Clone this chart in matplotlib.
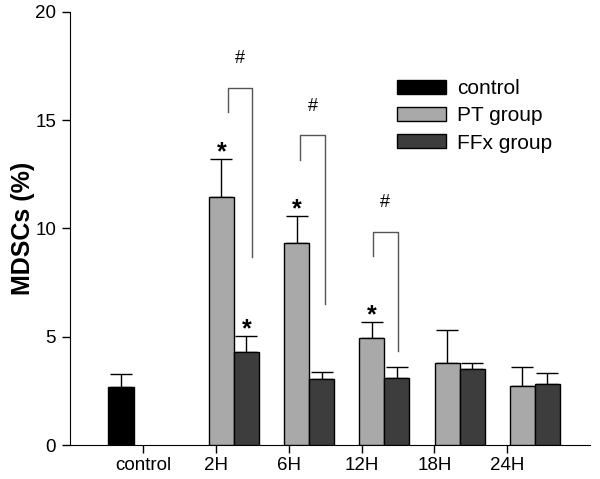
import numpy as np
import matplotlib.pyplot as plt

plt.rcParams['font.family'] = ['Liberation Sans', 'DejaVu Sans']

# Groups and values (MDSCs %)
groups = ['control', '2H', '6H', '12H', '18H', '24H']
control_mean = [2.69]
control_err = [0.59]
pt_mean = [11.45, 9.32, 4.96, 3.77, 2.74]
pt_err = [1.75, 1.28, 0.74, 1.54, 0.88]
ffx_mean = [4.31, 3.05, 3.08, 3.50, 2.82]
ffx_err = [0.74, 0.34, 0.54, 0.30, 0.52]

# significance brackets (2H, 6H, 12H): top, left end, right end
bracket_groups = [1, 2, 3]
bracket_top = [16.5, 14.3, 9.85]
bracket_left_end = [15.4, 13.15, 8.73]
bracket_right_end = [8.7, 6.5, 4.34]

fig = plt.figure(figsize=(6, 4.79), dpi=100)
ax = fig.add_axes([70 / 600, 1 - 445 / 479, 520 / 600, 433 / 479])

w = 0.333
idx = np.arange(len(groups))
ctrl_x = idx[:1] - w
pt_x = idx[1:].astype(float)
ffx_x = idx[1:] + w

ekw = dict(ecolor='black', elinewidth=1, capsize=8, capthick=1)
ax.bar(ctrl_x, control_mean, w, color='black', edgecolor='black', lw=1,
       label='control', zorder=3)
ax.errorbar(ctrl_x, control_mean, yerr=[[0] * 1, control_err], fmt='none', **ekw)
ax.bar(pt_x, pt_mean, w, color='#a9a9a9', edgecolor='black', lw=1,
       label='PT group', zorder=3)
ax.errorbar(pt_x, pt_mean, yerr=[[0] * 5, pt_err], fmt='none', **ekw)
ax.bar(ffx_x, ffx_mean, w, color='#3d3d3d', edgecolor='black', lw=1,
       label='FFx group', zorder=3)
ax.errorbar(ffx_x, ffx_mean, yerr=[[0] * 5, ffx_err], fmt='none', **ekw)

# tick positions drift slightly from the bar groups (as in the original)
tick_x = -0.036 + 0.967 * idx

# stars above error bars
for i in range(3):
    ax.text(pt_x[i], pt_mean[i] + pt_err[i] + 0.3, '*', ha='center',
            va='center', fontsize=18, fontweight='bold')
ax.text(ffx_x[0], ffx_mean[0] + ffx_err[0] + 0.3, '*', ha='center',
        va='center', fontsize=18, fontweight='bold')

# brackets with '#'
for k, g in enumerate(bracket_groups):
    xl = tick_x[g] + 0.153
    xr = tick_x[g] + 0.479
    ax.plot([xl, xl, xr, xr],
            [bracket_left_end[k], bracket_top[k], bracket_top[k], bracket_right_end[k]],
            color='#555555', lw=1)
    ax.text((xl + xr) / 2, bracket_top[k] + 1.35, '#', ha='center',
            va='center', fontsize=13)

ax.set_xlim(-1.011, 5.90)
ax.set_ylim(0, 20)
ax.set_xticks(tick_x)
ax.set_xticklabels(groups, fontsize=13.5)
ax.set_yticks([0, 5, 10, 15, 20])
ax.tick_params(axis='y', labelsize=13.5, direction='out', length=6, width=1, pad=4)
ax.tick_params(axis='x', direction='out', length=6, width=1, pad=3)
ax.spines['top'].set_visible(False)
ax.spines['right'].set_visible(False)
ax.set_ylabel('MDSCs (%)', fontsize=18, fontweight='bold', labelpad=0)

ax.legend(loc='upper left', bbox_to_anchor=(397 / 600, 1 - 79 / 479),
          bbox_transform=fig.transFigure, frameon=False, fontsize=15,
          handlelength=2.35, handleheight=0.65, labelspacing=0.4,
          handletextpad=0.55, borderpad=0, borderaxespad=0)

fig.savefig('out.png', dpi=100)
